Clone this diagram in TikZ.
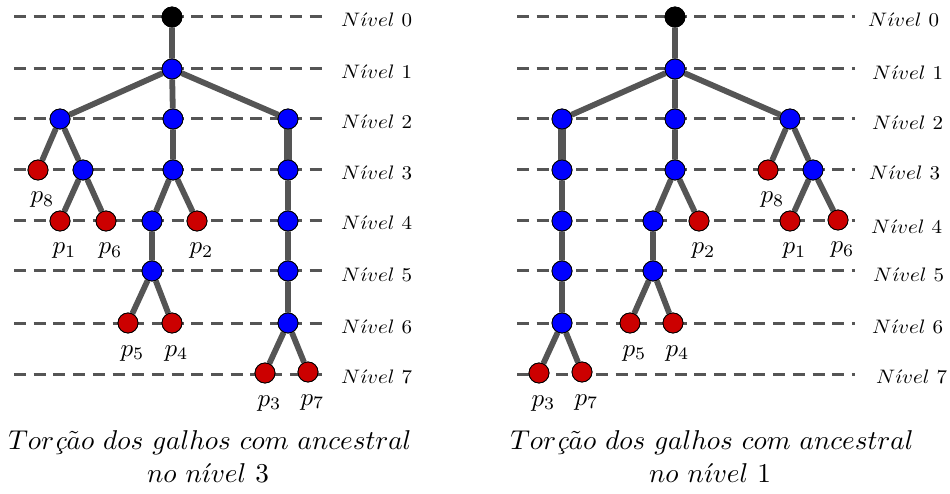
\documentclass[tikz,border=0pt]{standalone}
\newcommand\lvtxt[1]{\scalebox{2.1}[1.95]{$N\acute{\imath}vel\ #1$}}
\newcommand\pltxt[1]{\scalebox{2.5}{$p_{#1}$}}
\newcommand\captx[1]{\scalebox{2.72}{$#1$}}
\begin{document}
\definecolor{egray}{HTML}{555555}
\definecolor{nblue}{HTML}{0000FF}
\definecolor{nred}{HTML}{CC0000}
\begin{tikzpicture}[x=1pt,y=-1pt,
  lvl/.style={draw=egray, line width=3pt, dash pattern=on 12pt off 7.7pt},
  br/.style={draw=egray, line width=5.8pt},
  brt/.style={draw=egray, line width=7.5pt},
  nd/.style={circle, draw=black, line width=0.8pt, minimum size=20pt, inner sep=0pt},
  bn/.style={nd, fill=nblue}, rn/.style={nd, fill=nred}, kn/.style={nd, fill=black},
  lv/.style={font=\fontsize{10}{12}\selectfont, anchor=base west, inner sep=0pt},
  pl/.style={font=\fontsize{10}{12}\selectfont, anchor=base, inner sep=0pt},
  captxt/.style={font=\fontsize{10}{12}\selectfont, inner sep=0pt, anchor=base}]
\useasboundingbox (0,0) rectangle (950,494);
% level lines
\foreach \y [count=\i from 0] in {17,69,119,170,221,271,323,374}{
  \coordinate (la\i) at (14,\y); \coordinate (lb\i) at (322,\y);
  \coordinate (ra\i) at (517,\y); \coordinate (rb\i) at (855,\y);
  \draw[lvl] (la\i) -- (lb\i);
  \draw[lvl] (ra\i) -- (rb\i);
}
% left tree nodes
\node[kn] (a0) at (172,17) {};
\node[bn] (a1) at (172,69) {};
\node[bn] (a2a) at (60,119) {};
\node[bn] (a2b) at (173,119) {};
\node[bn] (a2c) at (288,119) {};
\node[rn] (a3a) at (38,170) {};
\node[bn] (a3b) at (83,170) {};
\node[bn] (a3c) at (173,170) {};
\node[bn] (a3d) at (288,170) {};
\node[rn] (a4a) at (60,221) {};
\node[rn] (a4b) at (106,221) {};
\node[bn] (a4c) at (152,221) {};
\node[rn] (a4d) at (197,221) {};
\node[bn] (a4e) at (288,221) {};
\node[bn] (a5a) at (152,271) {};
\node[bn] (a5b) at (288,271) {};
\node[rn] (a6a) at (128,323) {};
\node[rn] (a6b) at (172,323) {};
\node[bn] (a6c) at (288,323) {};
\node[rn] (a7a) at (265,373) {};
\node[rn] (a7b) at (308,372) {};
% right tree nodes
\node[kn] (b0) at (675,17) {};
\node[bn] (b1) at (675,69) {};
\node[bn] (b2a) at (562,119) {};
\node[bn] (b2b) at (675,119) {};
\node[bn] (b2c) at (790,119) {};
\node[bn] (b3a) at (562,170) {};
\node[bn] (b3b) at (675,170) {};
\node[rn] (b3c) at (768,170) {};
\node[bn] (b3d) at (813,170) {};
\node[bn] (b4a) at (562,221) {};
\node[bn] (b4b) at (653,221) {};
\node[rn] (b4c) at (699,221) {};
\node[rn] (b4d) at (790,221) {};
\node[rn] (b4e) at (838,220) {};
\node[bn] (b5a) at (562,271) {};
\node[bn] (b5b) at (653,271) {};
\node[bn] (b6a) at (562,323) {};
\node[rn] (b6b) at (630,323) {};
\node[rn] (b6c) at (673,323) {};
\node[rn] (b7a) at (539,373) {};
\node[rn] (b7b) at (582,372) {};
% edges
\path[br] (a0) -- (a1) (a1) -- (a2a) (a1) -- (a2b) (a1) -- (a2c)
  (a2a) -- (a3a) (a2a) -- (a3b) (a3b) -- (a4a) (a3b) -- (a4b)
  (a2b) -- (a3c) (a3c) -- (a4c) (a3c) -- (a4d) (a4c) -- (a5a)
  (a5a) -- (a6a) (a5a) -- (a6b)
  (a3d) -- (a4e) (a4e) -- (a5b) (a5b) -- (a6c) (a6c) -- (a7a) (a6c) -- (a7b);
\path[brt] (a2c) -- (a3d);
\path[br] (b0) -- (b1) (b1) -- (b2a) (b1) -- (b2b) (b1) -- (b2c)
  (b3a) -- (b4a) (b4a) -- (b5a) (b5a) -- (b6a) (b6a) -- (b7a) (b6a) -- (b7b)
  (b2b) -- (b3b) (b3b) -- (b4b) (b3b) -- (b4c) (b4b) -- (b5b) (b5b) -- (b6b) (b5b) -- (b6c)
  (b2c) -- (b3c) (b2c) -- (b3d) (b3d) -- (b4d) (b3d) -- (b4e);
\path[brt] (b2a) -- (b3a);
% redraw nodes on top of the edges
\foreach \n in {a1,a2a,a2b,a2c,a3b,a3c,a3d,a4c,a4e,a5a,a5b,a6c,b1,b2a,b2b,b2c,b3a,b3b,b3d,b4a,b4b,b5a,b5b,b6a}
  \path[draw=black, line width=0.8pt, fill=nblue] (\n.center) circle (10pt);
\foreach \n in {a3a,a4a,a4b,a4d,a6a,a6b,a7a,a7b,b3c,b4c,b4d,b4e,b6b,b6c,b7a,b7b}
  \path[draw=black, line width=0.8pt, fill=nred] (\n.center) circle (10pt);
\foreach \n in {a0,b0}
  \path[draw=black, line width=0.8pt, fill=black] (\n.center) circle (10pt);
% leaf labels
\foreach \n/\k in {a3a/8,a4a/1,a4b/6,a4d/2,a6a/5,a6b/4,a7a/3,a7b/7,b3c/8,b4c/2,b4d/1,b4e/6,b6b/5,b6c/4,b7a/3,b7b/7}
  \node[pl] (t\n) at ([xshift=4.5pt,yshift=-33pt]\n.center) {\pltxt{\k}};
% level labels
\foreach \y [count=\i from 0] in {27,79,129,180,230,281,333,383}
  \node[lv] (nl\i) at (341,\y) {\lvtxt{\i}};
\node[lv] (nr0) at (868,27) {\lvtxt{0}};
\node[lv] (nr1) at (872,80) {\lvtxt{1}};
\node[lv] (nr2) at (872,130) {\lvtxt{2}};
\node[lv] (nr3) at (869,180) {\lvtxt{3}};
\node[lv] (nr4) at (871,234) {\lvtxt{4}};
\node[lv] (nr5) at (873,282) {\lvtxt{5}};
\node[lv] (nr6) at (872,333) {\lvtxt{6}};
\node[lv] (nr7) at (876,383) {\lvtxt{7}};
% captions
\node[captxt] (cl1) at (210,449) {\captx{Tor\mbox{\itshape ç}\tilde{a}o\ dos\ galhos\ com\ ancestral}};
\node[captxt] (cl2) at (208,482) {\captx{no\ n\acute{\imath}vel\ 3}};
\node[captxt] (cr1) at (712,449) {\captx{Tor\mbox{\itshape ç}\tilde{a}o\ dos\ galhos\ com\ ancestral}};
\node[captxt] (cr2) at (710,482) {\captx{no\ n\acute{\imath}vel\ 1}};
\end{tikzpicture}
\end{document}
